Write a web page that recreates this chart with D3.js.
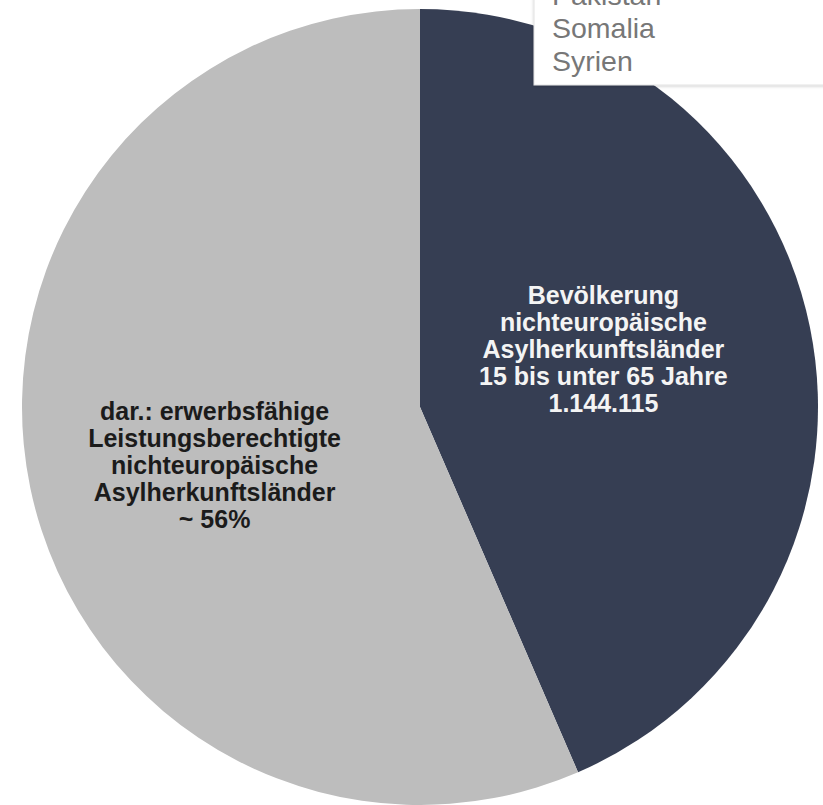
<!DOCTYPE html>
<html>
<head>
<meta charset="utf-8">
<script src="https://cdn.jsdelivr.net/npm/d3@7"></script>
<style>
  html, body { margin: 0; padding: 0; background: #ffffff; }
  svg { display: block; }
</style>
</head>
<body>
<svg id="chart" width="823" height="805"></svg>
<script>
// ---- data ----
const categories = ["Bevölkerung", "erwerbsfähige Leistungsberechtigte"];
const values = [43.5, 56.5];
const sliceLabels = [
  ["Bevölkerung", "nichteuropäische", "Asylherkunftsländer", "15 bis unter 65 Jahre", "1.144.115"],
  ["dar.: erwerbsfähige", "Leistungsberechtigte", "nichteuropäische", "Asylherkunftsländer", "~ 56%"]
];
const legendItems = ["Pakistan", "Somalia", "Syrien"];
const colors = ["#363e53", "#bdbdbd"];
const labelColors = ["#f4f4f4", "#1b1b1b"];

// ---- layout ----
const W = 823, H = 805;
const cx = 420, cy = 407, R = 398;
const svg = d3.select("#chart");

const defs = svg.append("defs");
const f = defs.append("filter").attr("id", "shadow").attr("x", "-10%").attr("y", "-10%").attr("width", "130%").attr("height", "140%");
f.append("feDropShadow").attr("dx", 0).attr("dy", 1).attr("stdDeviation", 1.5).attr("flood-color", "#000").attr("flood-opacity", 0.18);

const pie = d3.pie().sort(null).value(d => d)(values);
const arc = d3.arc().innerRadius(0).outerRadius(R);
const labelR = R * 0.51;
const labelRot = -5 * Math.PI / 180;

const g = svg.append("g").attr("transform", `translate(${cx},${cy})`);
g.selectAll("path.slice")
  .data(pie)
  .join("path")
  .attr("class", "slice")
  .attr("d", arc)
  .attr("fill", (d, i) => colors[i]);

const lineH = 27;
const fontSize = 25;
pie.forEach((d, i) => {
  const a = (d.startAngle + d.endAngle) / 2 + labelRot;
  const x = labelR * Math.sin(a) - 11;
  const y = -labelR * Math.cos(a);
  const lines = sliceLabels[i];
  const t = g.append("text")
    .attr("x", x)
    .attr("y", y - (lines.length - 1) * lineH / 2)
    .attr("text-anchor", "middle")
    .attr("dominant-baseline", "central")
    .attr("font-family", "'Liberation Sans', Arial, sans-serif")
    .attr("font-weight", "bold")
    .attr("font-size", fontSize)
    .attr("fill", labelColors[i]);
  lines.forEach((ln, j) => {
    t.append("tspan").attr("x", x).attr("dy", j === 0 ? 0 : lineH).text(ln);
  });
});

// ---- legend box (partially cut off at top) ----
const lg = svg.append("g");
lg.append("rect")
  .attr("x", 534).attr("y", -40)
  .attr("width", 320).attr("height", 125)
  .attr("fill", "#ffffff")
  .attr("stroke", "#e2e2e2")
  .attr("stroke-width", 1)
  .attr("filter", "url(#shadow)");
lg.selectAll("text")
  .data(legendItems)
  .join("text")
  .attr("x", 552)
  .attr("y", (d, i) => 5 + i * 33)
  .attr("font-family", "'Liberation Sans', Arial, sans-serif")
  .attr("font-size", 28.5)
  .attr("fill", "#777777")
  .text(d => d);
</script>
</body>
</html>
